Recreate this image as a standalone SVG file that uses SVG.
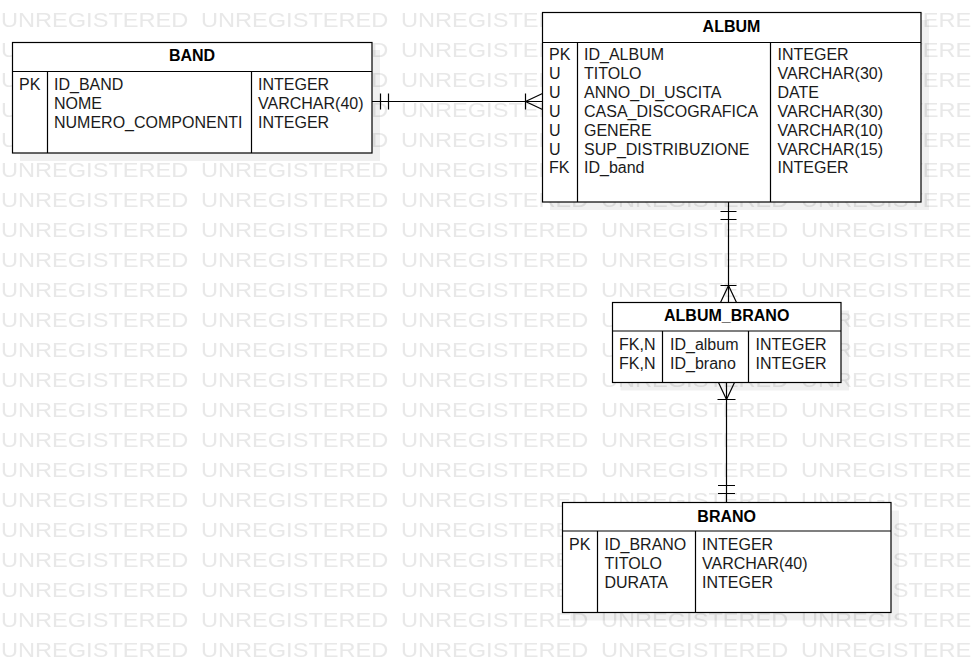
<svg xmlns="http://www.w3.org/2000/svg" width="971" height="662" viewBox="0 0 971 662">
<style>
.box{fill:#fff;stroke:#000;stroke-width:1.2}
.sh{fill:#000;fill-opacity:0.06}
.div{stroke:#000;stroke-width:1.2;fill:none}
.t{font-family:"Liberation Sans",Arial,sans-serif;font-size:16px;fill:#1a1a1a}
.h{font-family:"Liberation Sans",Arial,sans-serif;font-size:16px;font-weight:bold;fill:#000;text-anchor:middle}
.wm{font-family:"Liberation Sans",Arial,sans-serif;font-size:20px;fill:#e8e8e8}
.c{stroke:#000;stroke-width:1.2;fill:none}
</style>
<defs>
<pattern id="wmp" x="0" y="0" width="200" height="30" patternUnits="userSpaceOnUse">
<text class="wm" x="0.8" y="27" transform="scale(1.18 1)">UNREGISTERED</text>
</pattern>
</defs>
<rect width="971" height="662" fill="#fff"/>
<rect id="watermark" width="971" height="662" fill="url(#wmp)"/>

<g id="band">
<rect class="sh" x="20" y="50" width="360" height="111"/>
<rect class="box" x="12.5" y="42.5" width="359.5" height="110.5"/>
<path class="div" d="M12.5 71.5H372M47.5 71.5V153M251.5 71.5V153"/>
<text class="h" x="192" y="61">BAND</text>
<text class="t" x="19" y="90">PK</text>
<text class="t" x="54" y="90">ID_BAND</text>
<text class="t" x="54" y="109">NOME</text>
<text class="t" x="54" y="128">NUMERO_COMPONENTI</text>
<text class="t" x="258" y="90">INTEGER</text>
<text class="t" x="258" y="109">VARCHAR(40)</text>
<text class="t" x="258" y="128">INTEGER</text>
</g>

<g id="album">
<rect class="sh" x="550" y="20" width="379" height="190"/>
<rect class="box" x="542.5" y="12.5" width="378.5" height="189.5"/>
<path class="div" d="M542.5 42.5H921M577.5 42.5V202M770.5 42.5V202"/>
<text class="h" x="731.5" y="31.5">ALBUM</text>
<text class="t" x="549" y="60">PK</text>
<text class="t" x="549" y="78.9">U</text>
<text class="t" x="549" y="97.8">U</text>
<text class="t" x="549" y="116.7">U</text>
<text class="t" x="549" y="135.6">U</text>
<text class="t" x="549" y="154.5">U</text>
<text class="t" x="549" y="173.4">FK</text>
<text class="t" x="584" y="60">ID_ALBUM</text>
<text class="t" x="584" y="78.9">TITOLO</text>
<text class="t" x="584" y="97.8">ANNO_DI_USCITA</text>
<text class="t" x="584" y="116.7">CASA_DISCOGRAFICA</text>
<text class="t" x="584" y="135.6">GENERE</text>
<text class="t" x="584" y="154.5">SUP_DISTRIBUZIONE</text>
<text class="t" x="584" y="173.4">ID_band</text>
<text class="t" x="777.5" y="60">INTEGER</text>
<text class="t" x="777.5" y="78.9">VARCHAR(30)</text>
<text class="t" x="777.5" y="97.8">DATE</text>
<text class="t" x="777.5" y="116.7">VARCHAR(30)</text>
<text class="t" x="777.5" y="135.6">VARCHAR(10)</text>
<text class="t" x="777.5" y="154.5">VARCHAR(15)</text>
<text class="t" x="777.5" y="173.4">INTEGER</text>
</g>

<g id="album_brano">
<rect class="sh" x="620.5" y="310.5" width="228.5" height="80"/>
<rect class="box" x="612.5" y="302.5" width="228.5" height="80"/>
<path class="div" d="M612.5 331H841M662.5 331V382.5M748.5 331V382.5"/>
<text class="h" x="726.7" y="320.5">ALBUM_BRANO</text>
<text class="t" x="619" y="350">FK,N</text>
<text class="t" x="619" y="369">FK,N</text>
<text class="t" x="670" y="350">ID_album</text>
<text class="t" x="670" y="369">ID_brano</text>
<text class="t" x="755.5" y="350">INTEGER</text>
<text class="t" x="755.5" y="369">INTEGER</text>
</g>

<g id="brano">
<rect class="sh" x="570.5" y="510.5" width="328.5" height="110"/>
<rect class="box" x="562.5" y="502.5" width="328.5" height="110"/>
<path class="div" d="M562.5 531H891M597.5 531V612.5M695.5 531V612.5"/>
<text class="h" x="726.7" y="521.5">BRANO</text>
<text class="t" x="569" y="550">PK</text>
<text class="t" x="604.5" y="550">ID_BRANO</text>
<text class="t" x="604.5" y="569">TITOLO</text>
<text class="t" x="604.5" y="588">DURATA</text>
<text class="t" x="702" y="550">INTEGER</text>
<text class="t" x="702" y="569">VARCHAR(40)</text>
<text class="t" x="702" y="588">INTEGER</text>
</g>

<g id="connectors">
<g id="band-album">
<path class="c" d="M372 101.5H542.5"/>
<path class="c" d="M380.5 93.5V109.5M388.5 93.5V109.5"/>
<path class="c" d="M525.5 93.5V109.5M525.5 101.5L542.5 93.5M525.5 101.5L542.5 109.5"/>
</g>
<g id="album-album_brano">
<path class="c" d="M728.5 202V302.5"/>
<path class="c" d="M720.5 211.5H736.5M720.5 219.5H736.5"/>
<path class="c" d="M720.5 285.5H736.5M728.5 285.5L720.5 302.5M728.5 285.5L736.5 302.5"/>
</g>
<g id="album_brano-brano">
<path class="c" d="M726.5 382.5V502.5"/>
<path class="c" d="M717.5 399.5H735.5M718.5 382.5L726.5 399.5M734.5 382.5L726.5 399.5"/>
<path class="c" d="M718 485.5H735M718 493.5H735"/>
</g>
</g>
</svg>
